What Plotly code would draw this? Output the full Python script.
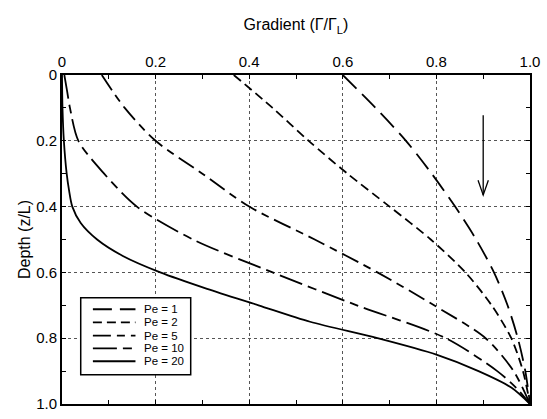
import plotly.graph_objects as go

# Depth (z/L) sample points and gradient values
depth = [0.0, 0.1, 0.2, 0.3, 0.4, 0.5, 0.6, 0.7, 0.8, 0.9, 1.0]
pe1 = [0.600, 0.670, 0.735, 0.790, 0.840, 0.885, 0.923, 0.952, 0.974, 0.990, 1.0]
pe2 = [0.367, 0.450, 0.527, 0.610, 0.700, 0.788, 0.862, 0.918, 0.960, 0.985, 1.0]
pe5 = [0.085, 0.134, 0.200, 0.300, 0.400, 0.540, 0.674, 0.795, 0.905, 0.965, 1.0]

depth10 = [0.0, 0.05, 0.1, 0.2, 0.3, 0.4, 0.5, 0.6, 0.7, 0.8, 0.9, 0.95, 1.0]
pe10 = [0.005, 0.011, 0.017, 0.035, 0.090, 0.160, 0.280, 0.450, 0.630, 0.820, 0.930, 0.970, 1.0]

depth20 = [0.0, 0.1, 0.2, 0.3, 0.35, 0.4, 0.45, 0.5, 0.55, 0.6, 0.65, 0.7, 0.75, 0.8, 0.85, 0.9, 0.95, 1.0]
pe20 = [0.0, 0.001, 0.004, 0.010, 0.015, 0.022, 0.040, 0.075, 0.130, 0.210, 0.310, 0.420, 0.530, 0.674, 0.800, 0.890, 0.960, 1.0]

names = ["Pe = 1", "Pe = 2", "Pe = 5", "Pe = 10", "Pe = 20"]
xs_all = [pe1, pe2, pe5, pe10, pe20]
ys_all = [depth, depth, depth, depth10, depth20]
dashes = ["19px,8px", "9px,5px", "18px,6px,8px,6px", "24px,6px,9px,6px", "solid"]

x_ticks = [0, 0.2, 0.4, 0.6, 0.8, 1.0]
x_labels = ["0", "0.2", "0.4", "0.6", "0.8", "1.0"]
y_ticks = [0, 0.2, 0.4, 0.6, 0.8, 1.0]
y_labels = ["0", "0.2", "0.4", "0.6", "0.8", "1.0"]

# direction arrow (gradient position, depth from -> to)
arrow_x = 0.9
arrow_from = 0.122
arrow_to = 0.365

FONT = "Liberation Sans, Arial, sans-serif"

fig = go.Figure()
for name, xs, ys, dash in zip(names, xs_all, ys_all, dashes):
    fig.add_trace(go.Scatter(
        x=xs, y=ys, mode="lines", name=name, showlegend=False,
        line=dict(color="black", width=1.8, dash=dash, shape="spline", smoothing=0.8),
    ))

axis_common = dict(
    showline=True, linecolor="black", linewidth=2, mirror="ticks",
    ticks="inside", ticklen=4, tickcolor="black", tickwidth=1,
    showgrid=True, gridcolor="#555555", griddash="dot", gridwidth=1,
    zeroline=False, ticklabeloverflow="allow",
    minor=dict(dtick=0.1, ticks="inside", ticklen=4, tickcolor="black", showgrid=False),
    tickfont=dict(family=FONT, size=15, color="black"),
)

fig.update_xaxes(
    range=[0, 1], side="top", tickvals=x_ticks, ticktext=x_labels,
    title=dict(text="Gradient (Γ/Γ<sub>L</sub>)", font=dict(family=FONT, size=16, color="black"), standoff=18),
    **axis_common,
)
fig.update_yaxes(
    range=[1, 0], tickvals=y_ticks, ticktext=y_labels,
    title=dict(text="Depth (z/L)", font=dict(family=FONT, size=16, color="black"), standoff=2),
    **axis_common,
)

# arrow drawn with shapes in data coordinates
fig.add_shape(type="line", xref="x", yref="y", x0=arrow_x, x1=arrow_x,
              y0=arrow_from, y1=arrow_to, line=dict(color="black", width=1.3))
fig.add_shape(type="path", xref="x", yref="y",
              path=f"M {arrow_x - 0.011},{arrow_to - 0.045} L {arrow_x},{arrow_to} L {arrow_x + 0.011},{arrow_to - 0.045}",
              line=dict(color="black", width=1.3))

# compact legend box drawn in plot-area (paper) coordinates
leg_x0, leg_x1, leg_y0, leg_y1 = 0.040, 0.275, 0.089, 0.323
sample_x0, sample_x1, text_x = 0.066, 0.157, 0.172
row_y = [0.288, 0.248, 0.208, 0.169, 0.130]
fig.add_shape(type="rect", xref="paper", yref="paper",
              x0=leg_x0, x1=leg_x1, y0=leg_y0, y1=leg_y1,
              line=dict(color="black", width=1.5), fillcolor="white", layer="above")
for name, dash, yy in zip(names, dashes, row_y):
    fig.add_shape(type="line", xref="paper", yref="paper",
                  x0=sample_x0, x1=sample_x1, y0=yy, y1=yy,
                  line=dict(color="black", width=1.8, dash=dash), layer="above")
    fig.add_annotation(x=text_x, y=yy, xref="paper", yref="paper", text=name,
                       showarrow=False, xanchor="left", yanchor="middle",
                       font=dict(family=FONT, size=11.5, color="black"))

fig.update_layout(
    width=547, height=419,
    margin=dict(l=62, r=13, t=75, b=7),
    plot_bgcolor="white", paper_bgcolor="white",
    font=dict(family=FONT, color="black"),
    showlegend=False,
)

fig.write_html("out.html", config={"displayModeBar": False},
               post_script="document.body.style.margin='0';")
